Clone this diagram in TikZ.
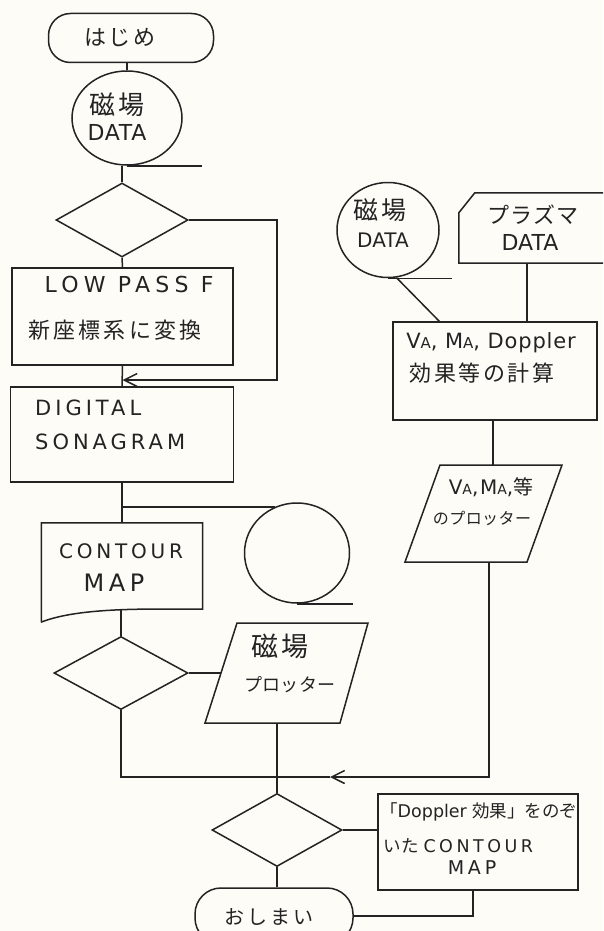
\documentclass[tikz,border=0pt]{standalone}
\usepackage{fontspec}
\usepackage{graphicx}
\usetikzlibrary{shapes.geometric,arrows.meta}
\newfontfamily\jp{Noto Sans CJK JP}
\newfontfamily\lat{DejaVu Sans}
\newcommand\fsz[1]{\fontsize{#1pt}{#1pt}\selectfont}
\newcommand\ls[1]{\addfontfeatures{LetterSpace=#1}}
\definecolor{ink}{RGB}{35,35,35}
\definecolor{paper}{RGB}{253,252,246}
\tikzset{
  shp/.style={draw=ink, line width=1.5pt, inner sep=0pt},
  proc/.style={shp, rectangle},
  term/.style={shp, rectangle, rounded corners=22pt},
  dec/.style={shp, diamond},
  tape/.style={shp, ellipse},
  hold/.style={inner sep=0pt},
  txt/.style={inner sep=0pt, text=ink},
  conn/.style={draw=ink, line width=1.5pt},
  barb/.style={-{Straight Barb[length=13pt,width=13pt]}}
}
\begin{document}
\begin{tikzpicture}[x=1pt,y=-1pt]
\useasboundingbox (0,0) rectangle (603,931);
\fill[paper] (0,0) rectangle (603,931);
\clip (0,0) rectangle (603,931);

% ---------- left column ----------
\node[term, minimum width=165pt, minimum height=49pt] (start) at (131,38) {};
\node[txt] (tstart) at (120,38) {\jp\fsz{22}\ls{12}はじめ};

\node[tape, minimum width=110pt, minimum height=94pt] (cL) at (127,118) {};
\node[txt] (tcL1) at (117,105) {\jp\fsz{26}\ls{8}磁場};
\node[txt] (tcL2) at (117,132) {\lat\fsz{22}\ls{3}DATA};

\node[dec, minimum width=132pt, minimum height=74pt] (d1) at (122,220) {};

\node[proc, minimum width=221pt, minimum height=97pt] (lp) at (122.5,316.5) {};
\node[txt] (tlp1) at (129,284) {\lat\fsz{22}\ls{24}LOW PASS F};
\node[txt] (tlp2) at (115,330) {\jp\fsz{22}\ls{14}新座標系に変換};

\node[proc, minimum width=223pt, minimum height=95pt] (dg) at (122,434.5) {};
\node[txt, anchor=west] (tdg1) at (35,408) {\lat\fsz{21}\ls{19}DIGITAL};
\node[txt, anchor=west] (tdg2) at (35,442) {\lat\fsz{21}\ls{19}SONAGRAM};

\node[hold, minimum width=161pt, minimum height=86pt] (cm) at (122,566) {};
\draw[shp] (cm.north west) -- (cm.north east) -- (cm.south east)
  .. controls (150,609) and (80,607) .. (41.5,622) -- cycle;
\node[txt] (tcm1) at (121,551) {\lat\fsz{20}\ls{19}CONTOUR};
\node[txt] (tcm2) at (114,583) {\lat\fsz{24}\ls{19}MAP};

\node[tape, minimum width=105pt, minimum height=100pt] (c2) at (297,553) {};

\node[dec, minimum width=134pt, minimum height=73pt] (d2) at (121,673) {};

\node[hold, minimum width=131pt, minimum height=100pt] (pp) at (287,673) {};
\draw[shp] (237,623) -- (368,623) -- (340,723) -- (205,723) -- cycle;
\coordinate (ppL) at (221,673);
\coordinate (ppB) at (277,723);
\node[txt] (tpp1) at (280,646) {\jp\fsz{27}\ls{12}磁場};
\node[txt] (tpp2) at (290,685) {\jp\fsz{18}\ls{2}プロッター};

\coordinate (J) at (277,777);
\coordinate (A2) at (330,777);

\node[dec, minimum width=130pt, minimum height=73pt] (d3) at (277,830) {};

\node[proc, minimum width=200pt, minimum height=96pt] (db) at (478,842) {};
\node[txt, anchor=west] (tdb1) at (380,812) {\fsz{17.5}\jp「\lat Doppler \jp 効果」をのぞ};
\node[txt, anchor=west] (tdb2) at (383,846) {\fsz{17.5}\jp\ls{4}いた\ \lat\ls{20}CONTOUR};
\node[txt] (tdb3) at (472,868) {\lat\fsz{19}\ls{20}MAP};

\node[term, minimum width=158pt, minimum height=56pt, rounded corners=26pt] (end) at (274,916) {};
\node[txt] (tend) at (269,917) {\jp\fsz{20}\ls{15}おしまい};

% ---------- right column ----------
\node[tape, minimum width=102pt, minimum height=95pt] (cR) at (388,230) {};
\node[txt] (tcR1) at (380,210) {\jp\fsz{25}\ls{10}磁場};
\node[txt] (tcR2) at (383,240) {\lat\fsz{20}DATA};

\node[hold, minimum width=161pt, minimum height=70pt] (pl) at (539.5,228) {};
\draw[shp] ([yshift=-20pt]pl.north west) -- ([xshift=16pt]pl.north west)
  -- (pl.north east) -- (pl.south east) -- (pl.south west) -- cycle;
\node[txt] (tpl1) at (533,215) {\jp\fsz{22}\ls{5}プラズマ};
\node[txt] (tpl2) at (530,242) {\lat\fsz{22}DATA};
\coordinate (plB) at ([xshift=68pt]pl.south west);

\node[proc, minimum width=204pt, minimum height=98pt] (va) at (495,371) {};
\node[txt] (tva1) at (491,343) {\lat\fsz{21}\ls{4}V{\fsz{15}A}, M{\fsz{15}A}, Doppler};
\node[txt] (tva2) at (482,373) {\jp\fsz{22}\ls{12}効果等の計算};

\node[hold, minimum width=122pt, minimum height=97pt] (vp) at (483.5,513.5) {};
\draw[shp] (440,465) -- (562,465) -- (527,562) -- (405,562) -- cycle;
\coordinate (vpT) at (493,465);
\coordinate (vpB) at (489,562);
\node[txt] (tvp1) at (491,487) {\lat\fsz{20}\ls{8}V{\fsz{14}A},M{\fsz{14}A},\jp 等};
\node[txt] (tvp2) at (482,518) {\jp\fsz{16}\ls{3}のプロッター};

% ---------- connectors ----------
\draw[conn] (cL.north) -- (cL.north |- start.south);
\draw[conn] (d1.north |- cL.south) -- (d1.north);
\draw[conn] (cL.south) -- ++(75,0);
\draw[conn] (d1.south) -- (lp.north);
\coordinate (LR) at (277,380);
\draw[conn, barb] (d1.east) -| (LR) -- (LR -| lp.south);
\draw[conn] (lp.south) -- (dg.north);
\draw[conn] (dg.south) -- (cm.north);
\draw[conn] (c2.116) -- (c2.116 -| dg.south);
\draw[conn] (c2.south) -- ++(56,0);
\draw[conn] (d2.north |- cm.south) -- (d2.north);
\draw[conn] (d2.east) -- (ppL);
\draw[conn] (ppB) -- (d3.north);
\draw[conn] (d2.south) |- (J);
\draw[conn, barb] (vpB) |- (A2);
\draw[conn] (A2) -- (J);
\draw[conn] (d3.east) -- (d3.east -| db.west);
\draw[conn] (d3.south) -- (d3.south |- end.north);
\draw[conn] ([xshift=-5pt]db.south) |- (end.east);
\draw[conn] (cR.south) -- ++(64,0);
\draw[conn] (cR.-80) -- ([xshift=47pt]va.north west);
\draw[conn] (plB) -- (plB |- va.north);
\draw[conn] (vpT |- va.south) -- (vpT);
\end{tikzpicture}
\end{document}
